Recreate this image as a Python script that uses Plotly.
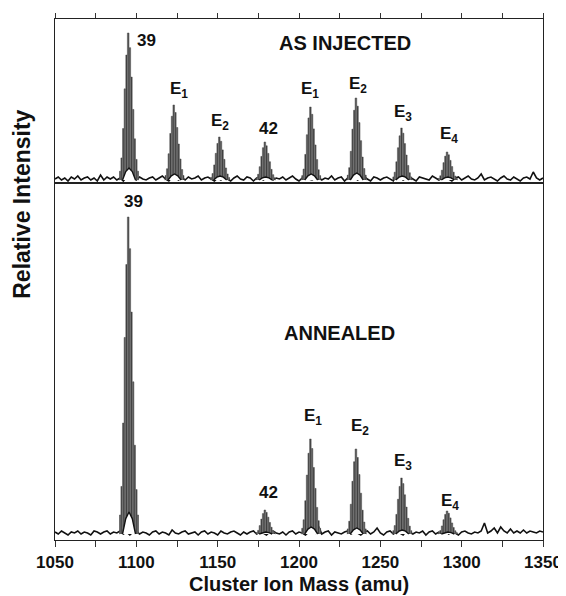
import plotly.graph_objects as go
from plotly.subplots import make_subplots

# ---------------- data ----------------
mass_start = 1050
mass_step = 2

noise_top = [1, 3, 0, 2, -1, 3, 1, 4, 0, 2,
             3, 0, 2, -1, 5, 0, 3, 1, 3, 0,
             2, -1, 3, 1, 2, 0, 3, 1, 0, 2,
             3, 0, 2, 4, 1, -1, 3, 2, 0, 3,
             0, 3, 1, 2, 4, 0, 2, 3, 1, -1,
             2, 0, 3, 1, -1, 2, 4, 1, 0, 3,
             2, -1, 2, 3, 0, 2, 3, 0, 2, 1,
             3, 0, 2, 4, 1, -1, 2, 3, 1, 0,
             2, 3, 0, 2, 1, 4, 0, 2, 3, -1,
             2, 1, 3, 0, 2, 4, 1, -1, 3, 2,
             0, 2, 3, 1, -1, 5, 2, 0, 2, 3,
             1, -1, 3, 2, 1, 0, 4, 2, 0, 2,
             3, 1, -1, 2, 3, 0, 2, 4, 1, 0,
             2, 6, 0, 2, 3, 1, -1, 2, 4, 1,
             0, 3, 1, -1, 2, 3, 1, 8, 2, 0, 2]

noise_bottom = [2, 0, 3, 1, -1, 2, 1, 3, 0, 2,
                1, -1, 3, 2, 0, 2, 3, 0, 2, 1,
                3, 0, 2, -1, 2, 3, 0, 2, 1, -1,
                2, 3, 0, 2, 1, -1, 4, 1, 0, 2,
                3, 0, 1, 2, -1, 2, 3, 0, 2, 1,
                -1, 3, 1, 0, 2, 3, 1, -1, 2, 0,
                2, 3, 0, 2, 1, -1, 2, 3, 1, 0,
                2, -1, 2, 3, 0, 2, 1, -1, 2, 3,
                1, 8, 0, 2, 3, -1, 2, 1, 0, 2,
                3, 0, 2, 1, -1, 2, 3, 0, 2, 6,
                1, -1, 2, 3, 0, 2, 1, -1, 3, 2,
                0, 2, 1, 3, -1, 2, 3, 0, 2, 1,
                3, 0, 2, 1, -1, 2, 3, 1, 0, 2,
                1, 3, 11, 1, 3, 6, 1, 7, 3, 1,
                5, 1, 3, 1, 4, 1, 3, 2, 1, 3, 2]

# isotope stick pattern shared by every cluster peak
stick_offsets = [-5, -4, -3, -2, -1, 0, 1, 2, 3, 4, 5, 6]
stick_rel = [0.06, 0.15, 0.35, 0.62, 0.85, 1.00, 0.90, 0.70, 0.48, 0.28, 0.14, 0.06]

peak_centers_top = [1095, 1123, 1151, 1179, 1207, 1235, 1263, 1291]
peak_heights_top = [147, 75, 43, 38, 73, 82, 52, 28]
hump_top = [12, 6, 4, 3, 6, 7, 4, 3]

peak_centers_bottom = [1095, 1179, 1207, 1235, 1263, 1291]
peak_heights_bottom = [317, 24, 95, 85, 56, 23]
hump_bottom = [22, 2, 7, 6, 4, 2]

labels_top = ["39", "E<sub>1</sub>", "E<sub>2</sub>", "42", "E<sub>1</sub>",
              "E<sub>2</sub>", "E<sub>3</sub>", "E<sub>4</sub>"]
label_x_top = [1106.5, 1126, 1151.5, 1181.5, 1207, 1236, 1264, 1292]
label_y_top = [140, 90, 58, 52, 90, 95, 67, 45]

labels_bottom = ["39", "42", "E<sub>1</sub>", "E<sub>2</sub>", "E<sub>3</sub>", "E<sub>4</sub>"]
label_x_bottom = [1098.5, 1181.5, 1208.5, 1237.5, 1264, 1293]
label_y_bottom = [332, 42, 117, 107, 72, 32]

panel_titles = ["AS INJECTED", "ANNEALED"]
panel_title_x = [1228, 1225]
panel_title_y = [137, 201]

x_title = "Cluster Ion Mass (amu)"
y_title = "Relative Intensity"

x_range = [1050, 1350]
y_range_top = [-3, 161]
y_range_bottom = [-6, 351]

FONT = "Liberation Sans, Arial, Helvetica, sans-serif"
INK = "#111"

# ---------------- figure ----------------
fig = make_subplots(rows=2, cols=1, shared_xaxes=True, vertical_spacing=0,
                    row_heights=[164, 357])


def add_panel(row, noise, centers, heights, humps):
    xs = [mass_start + mass_step * i for i in range(len(noise))]
    fig.add_trace(go.Scatter(x=xs, y=noise, mode="lines",
                             line=dict(color=INK, width=1.6),
                             hoverinfo="skip", showlegend=False), row=row, col=1)
    for c, h, hb in zip(centers, heights, humps):
        ex = [c + stick_offsets[0] - 0.6] + [c + o for o in stick_offsets] + [c + stick_offsets[-1] + 0.6]
        ey = [0] + [h * r for r in stick_rel] + [0]
        fig.add_trace(go.Scatter(x=ex, y=ey, mode="lines", fill="toself", line_shape="hvh",
                                 fillcolor="#8e8e8e", line=dict(color="#666", width=0.6),
                                 hoverinfo="skip", showlegend=False), row=row, col=1)
        sx, sy = [], []
        for o, r in zip(stick_offsets, stick_rel):
            sx += [c + o, c + o, None]
            sy += [0, h * r, None]
        fig.add_trace(go.Scatter(x=sx, y=sy, mode="lines",
                                 line=dict(color="#2a2a2a", width=0.8),
                                 hoverinfo="skip", showlegend=False), row=row, col=1)
        hx = [c - 3.5, c - 1.5, c + 0.5, c + 2.5, c + 4.5]
        hy = [0, 0.7 * hb, hb, 0.7 * hb, 0]
        fig.add_trace(go.Scatter(x=hx, y=hy, mode="lines", fill="toself",
                                 fillcolor="white", line=dict(color=INK, width=1.4),
                                 hoverinfo="skip", showlegend=False), row=row, col=1)


add_panel(1, noise_top, peak_centers_top, peak_heights_top, hump_top)
add_panel(2, noise_bottom, peak_centers_bottom, peak_heights_bottom, hump_bottom)

lab_font = dict(family=FONT, size=17, color=INK, weight="bold")
for t, x, y in zip(labels_top, label_x_top, label_y_top):
    fig.add_annotation(x=x, y=y, xref="x", yref="y", text=t, showarrow=False, font=lab_font)
for t, x, y in zip(labels_bottom, label_x_bottom, label_y_bottom):
    fig.add_annotation(x=x, y=y, xref="x2", yref="y2", text=t, showarrow=False, font=lab_font)

title_font = dict(family=FONT, size=20, color=INK, weight="bold")
fig.add_annotation(x=panel_title_x[0], y=panel_title_y[0], xref="x", yref="y",
                   text=panel_titles[0], showarrow=False, font=title_font)
fig.add_annotation(x=panel_title_x[1], y=panel_title_y[1], xref="x2", yref="y2",
                   text=panel_titles[1], showarrow=False, font=title_font)

fig.add_annotation(x=-0.068, y=0.645, xref="paper", yref="paper",
                   xanchor="center", yanchor="middle",
                   text=y_title, textangle=-90, showarrow=False,
                   font=dict(family=FONT, size=23, color=INK, weight="bold"))
fig.add_annotation(x=0.5, y=-0.084, xref="paper", yref="paper",
                   xanchor="center", yanchor="middle",
                   text=x_title, showarrow=False,
                   font=dict(family=FONT, size=20, color=INK, weight="bold"))

axis_common = dict(showline=True, linecolor="#222", linewidth=1.4, mirror=True,
                   showgrid=False, zeroline=False, range=x_range)
fig.update_xaxes(**axis_common, row=1, col=1, side="top", ticks="outside",
                 ticklen=5, tickwidth=1.2, tickcolor="#333", dtick=25, tick0=1050,
                 showticklabels=False)
fig.update_xaxes(**axis_common, row=2, col=1, side="bottom", ticks="outside",
                 ticklen=6, tickwidth=1.2, tickcolor="#333", dtick=50, tick0=1050,
                 minor=dict(dtick=25, ticks="outside", ticklen=6, tickwidth=1.2, tickcolor="#333"),
                 showticklabels=True, ticklabeloverflow="allow", automargin=False,
                 tickfont=dict(family=FONT, size=17, color=INK, weight="bold"))
fig.update_yaxes(showline=True, linecolor="#222", linewidth=1.4, mirror=True,
                 showgrid=False, zeroline=False, showticklabels=False, ticks="")
fig.update_yaxes(range=y_range_top, row=1, col=1)
fig.update_yaxes(range=y_range_bottom, row=2, col=1)

# the page body adds an 8 px offset, so the figure is sized and its margins shifted to match
fig.update_layout(width=558, height=588, margin=dict(l=47, r=23, t=11, b=56, autoexpand=False),
                  paper_bgcolor="white", plot_bgcolor="white",
                  font=dict(family=FONT, color=INK), showlegend=False)

fig.write_html("out.html")
